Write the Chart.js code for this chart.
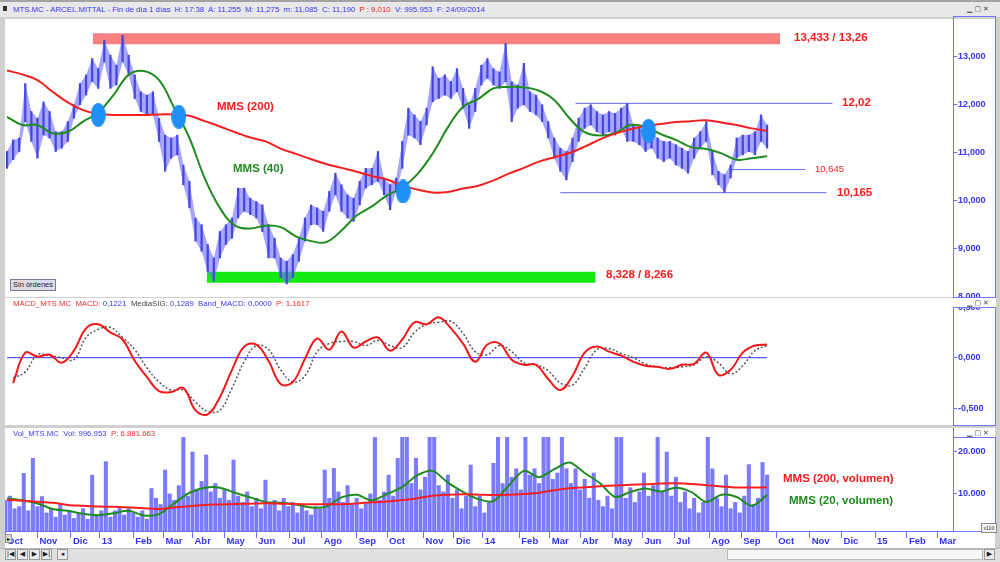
<!DOCTYPE html>
<html lang="es"><head><meta charset="utf-8"><title>MTS.MC - ARCEL.MITTAL</title>
<script src="https://cdn.jsdelivr.net/npm/chart.js@4.4.1/dist/chart.umd.min.js"></script>
<style>
html,body{margin:0;padding:0;}
body{width:1000px;height:562px;position:relative;overflow:hidden;background:#d0d0d0;font-family:"Liberation Sans",Arial,sans-serif;}
.a{position:absolute;white-space:nowrap;}
canvas{position:absolute;background:#fff;}
.lbl{position:absolute;white-space:nowrap;font-weight:bold;font-size:11.5px;line-height:12px;}
.red{color:#f41c1c;} .grn{color:#1f8a1f;}
.hdr{position:absolute;white-space:nowrap;font-size:7.8px;line-height:9px;color:#3a3af0;}
.win{position:absolute;font-family:"DejaVu Sans",sans-serif;font-size:7px;line-height:8px;color:#444;letter-spacing:2px;}
.axbox{position:absolute;border:1px solid #7474ff;box-sizing:border-box;}
.btn{position:absolute;top:549px;width:11px;height:11px;box-sizing:border-box;border:1px solid #9a9a9a;background:#ececec;font-family:"DejaVu Sans",sans-serif;font-size:7px;line-height:9px;text-align:center;color:#222;}
</style></head><body>

<div class="a" style="left:0;top:0;width:1000px;height:2px;background:#a3a3a3"></div>
<div class="a" style="left:0;top:2px;width:1000px;height:15px;background:#e8e8e8"></div>
<div class="a" style="left:3px;top:6px;width:4px;height:5px;background:#333"></div>
<div class="hdr" style="left:13px;top:5px">MTS.MC - ARCEL.MITTAL - Fin de día 1 días&nbsp; H: 17:38&nbsp; A: 11,255&nbsp; M: 11,275&nbsp; m: 11,085&nbsp; C: 11,190&nbsp; <span style="color:#f02020">P : 9,010</span>&nbsp; V: 995.953&nbsp; F: 24/09/2014</div>
<div class="win" style="left:967px;top:5px">▁▢✕</div>

<canvas id="cPrice" width="990" height="278" style="left:5px;top:19px"></canvas>
<canvas id="cMacd" width="990" height="127" style="left:5px;top:298px"></canvas>
<canvas id="cVol" width="990" height="120" style="left:5px;top:428px"></canvas>

<div class="axbox" style="left:953px;top:16px;width:43px;height:282px"></div>
<div class="a" style="left:953px;top:298px;width:43px;height:10px;background:#fff"></div>
<div class="win" style="left:967px;top:299px">▁▢✕</div>
<div class="axbox" style="left:953px;top:307px;width:43px;height:119px"></div>
<div class="win" style="left:967px;top:429px">▁▢✕</div>
<div class="axbox" style="left:953px;top:437px;width:43px;height:95px"></div>
<div class="a" style="left:981px;top:523px;width:14px;height:8px;border:1px solid #8a8a8a;background:#f4f4f4;font-size:5px;line-height:8px;text-align:center;color:#333">x100</div>

<div class="hdr" style="left:13px;top:299px;color:#f03030">MACD_MTS.MC&nbsp; MACD: <span style="color:#3a3af0">0,1221</span>&nbsp; <span style="color:#444">MediaSIG:</span> <span style="color:#3a3af0">0,1289&nbsp; Band_MACD: 0,0000</span>&nbsp; P: 1,1617</div>
<div class="hdr" style="left:13px;top:429px">Vol_MTS.MC&nbsp; Vol: 996.953&nbsp; <span style="color:#f03030">P: 6.881.663</span></div>

<div class="lbl red" style="left:794px;top:31px">13,433 / 13,26</div>
<div class="lbl red" style="left:217px;top:100px">MMS (200)</div>
<div class="lbl grn" style="left:233px;top:162px">MMS (40)</div>
<div class="lbl red" style="left:842px;top:96px">12,02</div>
<div class="lbl red" style="left:815px;top:163px;font-weight:normal;font-size:9.5px">10,645</div>
<div class="lbl red" style="left:837px;top:186px">10,165</div>
<div class="lbl red" style="left:606px;top:268px">8,328 / 8,266</div>
<div class="lbl red" style="left:783px;top:472px">MMS (200, volumen)</div>
<div class="lbl grn" style="left:789px;top:494px">MMS (20, volumen)</div>

<div class="a" style="left:10px;top:279px;width:46px;height:12px;box-sizing:border-box;border:1px solid #7a7a9a;background:#dcdce6;font-size:7.5px;line-height:10px;text-align:center;color:#223">Sin órdenes</div>

<div class="a" style="left:5px;top:534px;width:7px;height:9px;background:#d8d8d8;border:1px solid #999;box-sizing:border-box;font-family:'DejaVu Sans';font-size:6px;line-height:7px;text-align:center">▸</div>
<div class="a" style="left:0;top:548px;width:1000px;height:14px;background:#e0e0e0;border-top:1px solid #b5b5b5"></div>
<div class="btn" style="left:5px">|◀</div>
<div class="btn" style="left:17px">◀</div>
<div class="btn" style="left:29px">▶</div>
<div class="btn" style="left:41px">▶|</div>
<div class="btn" style="left:57px">◂</div>
<div class="a" style="left:727px;top:549px;width:256px;height:11px;box-sizing:border-box;background:#f6f6f6;border:1px solid #b8b8b8"></div>
<div class="btn" style="left:984px">▶</div>

<script>
// ---------- Time axis (trading-day index) ----------
const monthTicks  = [0.66, 22, 44, 63, 85, 105, 124, 145, 166, 188, 209, 232, 252, 276, 296, 315, 339, 359, 379, 400, 420, 441, 464, 485, 508, 530, 551, 573, 594, 614];
const monthLabels = ['Oct','Nov','Dic','13','Feb','Mar','Abr','May','Jun','Jul','Ago','Sep','Oct','Nov','Dic','14','Feb','Mar','Abr','May','Jun','Jul','Ago','Sep','Oct','Nov','Dic','15','Feb','Mar'];

// ---------- Price (high / low every 4 trading days) ----------
const priceStart = 2, priceStep = 4;
const priceHigh = [11.02,11.26,11.30,12.43,11.85,11.71,12.05,11.85,11.43,11.43,
 11.64,11.99,12.43,12.61,12.95,12.74,13.33,13.02,12.81,13.43,
 13.02,12.61,12.26,12.19,12.26,11.71,11.36,11.30,11.36,10.74,
 10.40,9.64,9.50,9.09,8.81,9.36,9.50,9.64,10.26,10.26,
 10.05,9.98,9.91,9.50,9.22,8.81,8.74,8.88,9.22,9.64,
 9.91,9.85,9.78,10.19,10.57,10.33,10.12,10.05,10.40,10.67,
 10.67,11.02,10.47,10.33,10.47,11.23,11.92,11.78,11.64,11.92,
 12.78,12.54,12.61,12.47,12.74,12.33,11.99,12.33,12.81,12.95,
 12.74,12.67,13.26,12.47,12.40,12.85,12.26,12.19,11.99,11.64,
 11.30,11.09,11.02,11.30,11.71,11.92,11.99,11.85,11.78,11.85,
 11.81,11.92,12.02,11.57,11.50,11.43,11.43,11.30,11.23,11.23,
 11.16,11.09,11.02,11.30,11.43,11.64,11.02,10.61,10.54,10.74,
 11.30,11.36,11.36,11.43,11.78,11.57];
const priceLow = [10.67,10.85,11.02,11.64,11.23,10.88,11.36,11.30,11.02,11.09,
 11.23,11.71,11.99,12.19,12.47,12.33,12.88,12.33,12.40,12.88,
 12.61,12.12,11.85,11.78,11.78,11.23,10.61,10.88,10.95,10.33,
 9.85,9.16,8.95,8.53,8.33,8.81,9.09,9.22,9.64,9.78,
 9.71,9.64,9.36,8.81,8.81,8.40,8.27,8.40,8.74,9.16,
 9.50,9.50,9.36,9.78,10.12,9.78,9.64,9.57,9.91,10.26,
 10.33,10.40,10.12,9.81,10.19,10.67,11.36,11.30,11.16,11.57,
 12.05,12.12,12.19,12.12,12.26,11.92,11.50,11.85,12.40,12.54,
 12.40,12.33,12.47,11.64,11.92,11.99,11.85,11.78,11.64,11.30,
 10.88,10.61,10.43,10.81,11.23,11.50,11.57,11.43,11.36,11.43,
 11.36,11.50,11.23,11.23,11.16,11.02,11.09,10.88,10.81,10.88,
 10.74,10.67,10.57,10.88,11.09,11.23,10.54,10.33,10.17,10.47,
 10.88,10.95,11.02,10.95,11.23,11.09];

// ---------- Moving averages (every 10 trading days) ----------
const maStart = 2, maStep = 10;
const mms200 = [12.70,12.62,12.50,12.26,12.04,11.88,11.80,11.78,11.78,11.78,
 11.79,11.79,11.76,11.65,11.54,11.42,11.31,11.23,11.08,10.97,
 10.86,10.76,10.68,10.60,10.51,10.44,10.31,10.23,10.17,10.18,
 10.25,10.31,10.42,10.56,10.68,10.81,10.90,10.99,11.12,11.27,
 11.39,11.48,11.55,11.59,11.63,11.65,11.67,11.62,11.57,11.50,
 11.45];
const mms40 = [11.74,11.57,11.57,11.40,11.43,11.64,11.83,12.19,12.61,12.69,
 12.50,11.92,11.30,10.47,9.85,9.48,9.42,9.48,9.45,9.26,
 9.16,9.14,9.38,9.69,9.88,10.11,10.27,10.55,10.98,11.52,
 11.95,12.11,12.33,12.36,12.35,12.28,12.09,11.71,11.42,11.35,
 11.40,11.57,11.53,11.38,11.26,11.11,11.07,10.98,10.85,10.88,
 10.92];

// ---------- Annotations on the price panel ----------
const bandDays   = [[58.5, 510.5], [133.5, 389]];
const bandLevels = [13.36, 8.41];
const levelValues = [12.02, 10.165, 10.645];
const levelDays   = [[376, 545], [366, 541], [477, 527]];
const crossDays   = [62, 115, 262.5, 424];
const crossValues = [11.78, 11.74, 10.19, 11.45];
const priceTicks = [8, 9, 10, 11, 12, 13];

// ---------- MACD (every 8 trading days) ----------
const macdStart = 6, macdStep = 8;
const macdLine = [-0.25,0.05,0.01,0.03,-0.05,0.07,0.29,0.33,0.25,0.18,
 -0.03,-0.19,-0.33,-0.34,-0.30,-0.52,-0.56,-0.39,-0.12,0.11,
 0.13,-0.03,-0.26,-0.24,-0.01,0.19,0.08,0.26,0.10,0.16,
 0.20,0.07,0.18,0.35,0.33,0.40,0.29,0.14,-0.04,0.13,
 0.14,-0.02,-0.07,-0.07,-0.21,-0.32,-0.18,0.05,0.11,0.06,
 0.02,-0.04,-0.08,-0.09,-0.11,-0.07,-0.06,0.05,-0.17,-0.12,
 0.05,0.12,0.13];
const macdSignal = [-0.20,-0.14,0.03,0.02,0.00,-0.02,0.20,0.28,0.30,0.20,
 0.08,-0.10,-0.24,-0.32,-0.32,-0.44,-0.53,-0.52,-0.30,-0.04,
 0.12,0.08,-0.12,-0.24,-0.18,0.06,0.14,0.16,0.16,0.12,
 0.17,0.12,0.10,0.25,0.33,0.35,0.36,0.24,0.06,0.03,
 0.12,0.06,-0.05,-0.07,-0.13,-0.25,-0.27,-0.10,0.08,0.09,
 0.04,0.00,-0.06,-0.09,-0.10,-0.09,-0.07,0.01,-0.05,-0.16,
 -0.08,0.07,0.12];
const macdZeroDays = [2, 502];
const macdTicks = [-0.5, 0, 0.5];

// ---------- Volume (x100, every 3 trading days) ----------
const volStart = 1, volStep = 3;
const volume = [8500,9500,6500,7000,14900,6000,18500,7000,9400,5500,
 6500,4500,7500,5000,6000,4200,5500,6500,4000,14500,
 5000,6000,17700,4500,6000,7000,5000,6500,5500,4500,
 6000,4000,11300,9000,7500,15700,10000,8500,12000,23500,
 9500,20000,11000,13000,19300,10500,12500,9000,11000,8500,
 18100,9500,8000,10500,7000,9000,6500,13300,7500,8500,
 6000,9000,7000,8000,5500,7500,6000,5000,7000,6500,
 15700,9000,16100,10500,8000,12000,7500,9000,6500,8000,
 10000,23500,8500,10500,14500,9500,18500,23500,23500,12500,
 18500,11000,14000,23500,23500,12000,10500,14500,9000,11000,
 6500,9500,16900,7000,9500,5500,8000,17300,23500,12500,
 23500,14000,16000,11000,23500,14500,16000,12500,23500,23500,
 13500,15000,23500,16000,12500,16000,11000,13500,9000,15000,
 8500,7000,9500,6500,23500,23500,9000,11500,8000,10500,
 15000,9500,12000,23500,10500,20000,9500,14000,8000,10500,
 6500,9000,5500,8000,23500,16000,9000,7000,14500,6500,
 8000,5500,9500,17000,7500,9000,17500,14500];
const volMa200 = [8600,8400,8170,7900,7400,7200,7000,6950,6800,6600,
 6450,6800,7100,7400,7500,7600,7700,7780,7700,7600,
 7540,7540,7560,7750,8050,8200,8550,9000,9600,9850,
 9920,9850,9760,9800,10000,10300,10900,11350,11600,11850,
 12000,12200,12300,12500,12540,12400,12100,11800,11550,11550,
 11600];
const volMa20 = [8900,8500,7750,6430,6000,5300,4950,5400,6000,4900,
 5200,7800,10300,11500,11500,10300,9200,8100,7900,7500,
 6800,7000,9200,9800,8500,10000,11700,14500,15500,12700,
 10500,8800,8300,12000,15500,14000,15900,17500,15000,12600,
 9300,10500,11300,10600,11500,10500,8100,9800,9300,7200,
 9800];
const volTicks = [10000, 20000];

// ---------- Helpers ----------
const FONT = '"Liberation Sans", Arial, sans-serif';
const AX = '#7070ff', AXT = '#3434ee';
const X_MIN = 0.66, X_MAX = 624.3;
const pts = (start, step, arr) => arr.map((v, i) => ({x: start + i * step, y: v}));
const seg = (d, v) => [{x: d[0], y: v}, {x: d[1], y: v}];
const commaFmt = v => v.toFixed(3).replace('.', ',');
const volFmt = v => (v / 1000).toFixed(3);

function ellipseImg(w, h, color) {
  const c = document.createElement('canvas'); c.width = w; c.height = h;
  const g = c.getContext('2d'); g.fillStyle = color;
  g.beginPath(); g.ellipse(w / 2, h / 2, w / 2, h / 2, 0, 0, Math.PI * 2); g.fill();
  return c;
}
function yAxis(min, max, tickVals, fmt) {
  return {
    position: 'right', min, max,
    afterBuildTicks: s => { s.ticks = tickVals.map(v => ({value: v})); },
    afterFit: s => { s.width = 42; s.paddingTop = 0; s.paddingBottom = 0; },
    border: {color: AX, width: 1},
    grid: {drawOnChartArea: false, color: AX, tickLength: 4},
    ticks: {color: AXT, font: {family: FONT, size: 9, weight: 'bold'}, padding: 1, callback: v => fmt(v)}
  };
}
function xAxis(show) {
  return {
    type: 'linear', min: X_MIN, max: X_MAX, display: show, offset: false,
    afterBuildTicks: s => { s.ticks = monthTicks.map(v => ({value: v})); },
    afterFit: s => { s.height = show ? 17 : 0; s.paddingLeft = 0; s.paddingRight = 0; },
    border: {color: AX, width: 1},
    grid: {drawOnChartArea: false, color: AX, tickLength: 7, offset: false},
    ticks: {autoSkip: false, maxRotation: 0, align: 'start', labelOffset: 2, padding: -2, color: AXT,
      font: {family: FONT, size: 9.5, weight: 'bold'},
      callback: v => { const k = monthTicks.indexOf(v); return k >= 0 ? monthLabels[k] : ''; }}
  };
}
const baseOpts = () => ({responsive: false, animation: false, events: [],
  layout: {padding: 0, autoPadding: false},
  plugins: {legend: {display: false}, tooltip: {enabled: false}}});
const lineDs = (data, color, width, order, extra) => Object.assign({type: 'line', data, borderColor: color,
  borderWidth: width, pointRadius: 0, fill: false, order}, extra || {});

// ---------- Price chart ----------
const priceDatasets = [
  lineDs(seg(bandDays[0], bandLevels[0]), '#f98080', 11, 6, {borderCapStyle: 'butt'}),
  lineDs(seg(bandDays[1], bandLevels[1]), '#14ea14', 11, 6, {borderCapStyle: 'butt'}),
  ...levelValues.map((v, i) => lineDs(seg(levelDays[i], v), '#6464ff', 1, 5)),
  lineDs(pts(priceStart, priceStep, priceLow), 'rgba(0,0,0,0)', 0, 4),
  lineDs(pts(priceStart, priceStep, priceHigh), 'rgba(0,0,0,0)', 0, 4,
    {fill: '-1', backgroundColor: 'rgba(112,112,255,0.62)'}),
  {type: 'bar', data: priceHigh.map((h, i) => ({x: priceStart + i * priceStep, y: [priceLow[i], h]})),
    backgroundColor: '#4646e0', barThickness: 1.6, order: 3},
  lineDs(pts(maStart, maStep, mms200), '#f42020', 2, 1, {tension: 0.4}),
  lineDs(pts(maStart, maStep, mms40), '#1f8c1f', 2, 1, {tension: 0.4}),
  {type: 'scatter', data: crossDays.map((d, i) => ({x: d, y: crossValues[i]})),
    pointStyle: ellipseImg(15, 24, '#1e8ff5'), pointRadius: 8, order: 0}
];
new Chart(document.getElementById('cPrice'), {
  type: 'bar', data: {datasets: priceDatasets},
  options: Object.assign(baseOpts(), {scales: {x: xAxis(false), y: yAxis(8.0, 13.77, priceTicks, commaFmt)}})
});

// ---------- MACD chart ----------
new Chart(document.getElementById('cMacd'), {
  type: 'line',
  data: {datasets: [
    lineDs(seg(macdZeroDays, 0), '#5a5aff', 1.2, 3),
    lineDs(pts(macdStart, macdStep, macdSignal), '#555555', 1.5, 2, {borderDash: [2, 2], tension: 0.4}),
    lineDs(pts(macdStart, macdStep, macdLine), '#f01818', 2, 1, {tension: 0.4})
  ]},
  options: Object.assign(baseOpts(), {scales: {x: xAxis(false), y: yAxis(-0.665, 0.59, macdTicks, commaFmt)}})
});

// ---------- Volume chart ----------
new Chart(document.getElementById('cVol'), {
  type: 'bar',
  data: {datasets: [
    {type: 'bar', data: pts(volStart, volStep, volume), backgroundColor: '#7b7bff', barThickness: 3.4, order: 3},
    lineDs(pts(maStart, maStep, volMa200), '#f42020', 2, 1, {tension: 0.3}),
    lineDs(pts(maStart, maStep, volMa20), '#1f8c1f', 2, 1, {tension: 0.3})
  ]},
  options: Object.assign(baseOpts(), {scales: {x: xAxis(true), y: yAxis(1190, 25714, volTicks, volFmt)}})
});
</script>
</body></html>
